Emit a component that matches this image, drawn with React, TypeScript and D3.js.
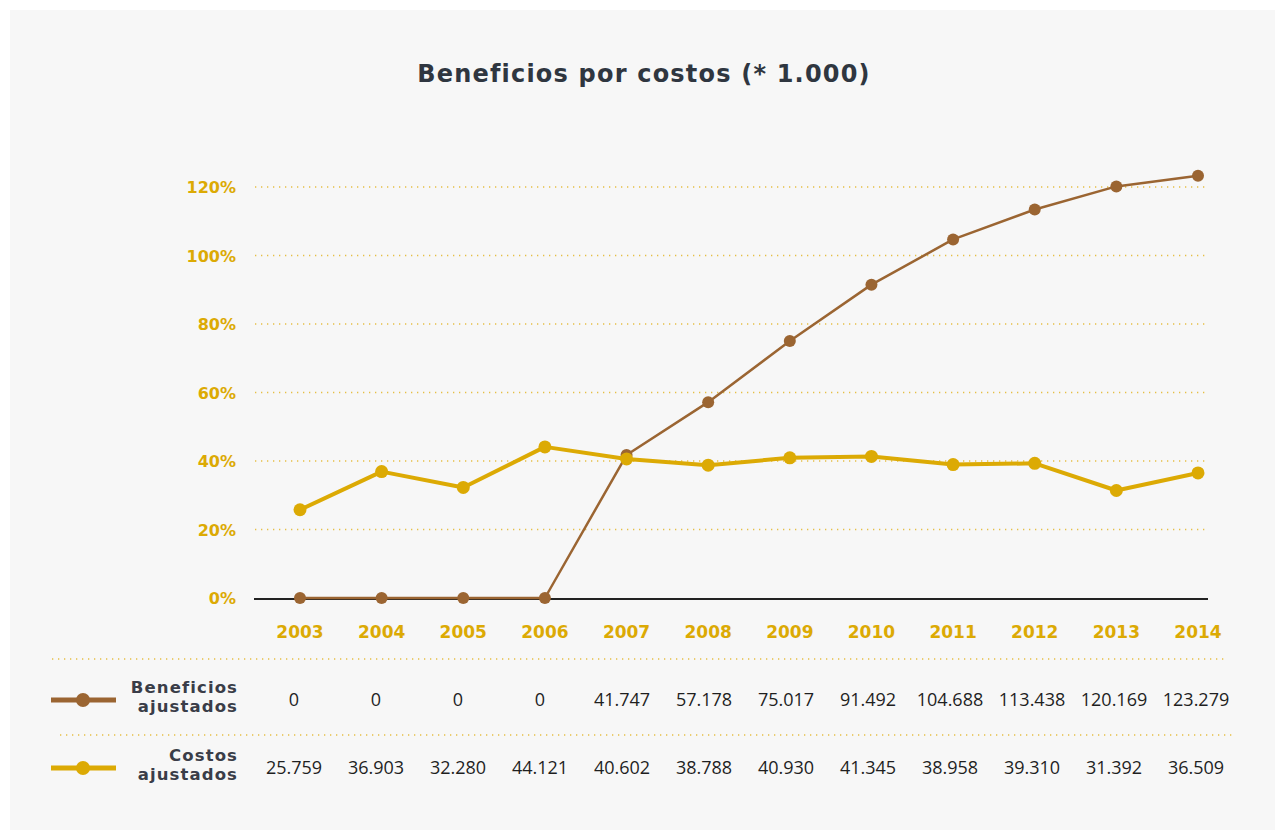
import React from "react";
import * as d3 from "d3";

const years = ["2003","2004","2005","2006","2007","2008","2009","2010","2011","2012","2013","2014"];
const beneficios = [0, 0, 0, 0, 41747, 57178, 75017, 91492, 104688, 113438, 120169, 123279];
const costos = [25759, 36903, 32280, 44121, 40602, 38788, 40930, 41345, 38958, 39310, 31392, 36509];
const yTicks = [0, 20, 40, 60, 80, 100, 120];
const seriesNames = [["Beneficios", "ajustados"], ["Costos", "ajustados"]];
const title = "Beneficios por costos (* 1.000)";

const BROWN = "#9b6532";
const GOLD = "#dcaa04";
const BOLD = "'DejaVu Sans', 'Open Sans', sans-serif";
const FONT = "'Open Sans', 'DejaVu Sans', sans-serif";

const fmt = (v: number) => (v === 0 ? "0" : d3.format(",.3f")(v / 1000).replace(/,/g, ""));

export default function App() {
  const W = 1284, H = 834;
  const x = d3.scalePoint<string>().domain(years).range([300, 1198]);
  const y = d3.scaleLinear().domain([0, 120]).range([598, 187]);
  const line = d3.line<number>().x((_, i) => x(years[i])!).y((d) => y(d / 1000));
  const series = [
    { vals: beneficios, color: BROWN, width: 2.5, r: 6 },
    { vals: costos, color: GOLD, width: 4, r: 6.5 },
  ];
  const rowY = [700, 768];
  const sepY = [659, 735];
  const sepX = [[52, 1225], [60, 1236]];
  const tableVals = [beneficios, costos];
  const tableX = d3.scalePoint<string>().domain(years).range([294, 1196]);

  return (
    <svg width={W} height={H} style={{ position: "absolute", left: 0, top: 0 }}>
      <rect x={0} y={0} width={W} height={H} fill="#ffffff" />
      <rect x={10} y={10} width={1265} height={820} fill="#f7f7f7" />
      <text x={644} y={82} textAnchor="middle" fontFamily={BOLD} fontWeight={700} fontSize={24} fill="#2f3640" letterSpacing={1.2}>
        {title}
      </text>
      {yTicks.map((t) => (
        <g key={t}>
          {t !== 0 && (
            <line x1={255} x2={1208} y1={y(t)} y2={y(t)} stroke="#e6bf45" strokeWidth={1.3} strokeDasharray="1.3,4.7" />
          )}
          <text x={236} y={y(t) + 6} textAnchor="end" fontFamily={BOLD} fontWeight={700} fontSize={16} fill={GOLD}>
            {t}%
          </text>
        </g>
      ))}
      <line x1={254} x2={1208} y1={y(0) + 1} y2={y(0) + 1} stroke="#222" strokeWidth={2} />
      {years.map((yr) => (
        <text key={yr} x={x(yr)} y={638} textAnchor="middle" fontFamily={BOLD} fontWeight={700} fontSize={17} fill={GOLD}>
          {yr}
        </text>
      ))}
      {series.map((s, si) => (
        <g key={si}>
          <path d={line(s.vals)!} fill="none" stroke={s.color} strokeWidth={s.width} strokeLinejoin="round" />
          {s.vals.map((v, i) => (
            <circle key={i} cx={x(years[i])} cy={y(v / 1000)} r={s.r} fill={s.color} />
          ))}
        </g>
      ))}
      {sepY.map((sy, i) => (
        <line key={i} x1={sepX[i][0]} x2={sepX[i][1]} y1={sy} y2={sy} stroke="#e6bf45" strokeWidth={1.3} strokeDasharray="1.3,4.7" />
      ))}
      {series.map((s, si) => (
        <g key={si}>
          <line x1={51} x2={116} y1={rowY[si]} y2={rowY[si]} stroke={s.color} strokeWidth={5} />
          <circle cx={83} cy={rowY[si]} r={7} fill={s.color} />
          <text x={238} y={rowY[si] - 7} textAnchor="end" fontFamily={BOLD} fontWeight={700} fontSize={16.5} fill="#3a3d48" letterSpacing={1.1}>
            {seriesNames[si][0]}
          </text>
          <text x={238} y={rowY[si] + 12} textAnchor="end" fontFamily={BOLD} fontWeight={700} fontSize={16.5} fill="#3a3d48" letterSpacing={1.1}>
            {seriesNames[si][1]}
          </text>
          {tableVals[si].map((v, i) => (
            <text key={i} x={tableX(years[i])} y={rowY[si] + 6} textAnchor="middle" fontFamily={FONT} fontSize={18} fill="#1f1f1f">
              {fmt(v)}
            </text>
          ))}
        </g>
      ))}
    </svg>
  );
}
